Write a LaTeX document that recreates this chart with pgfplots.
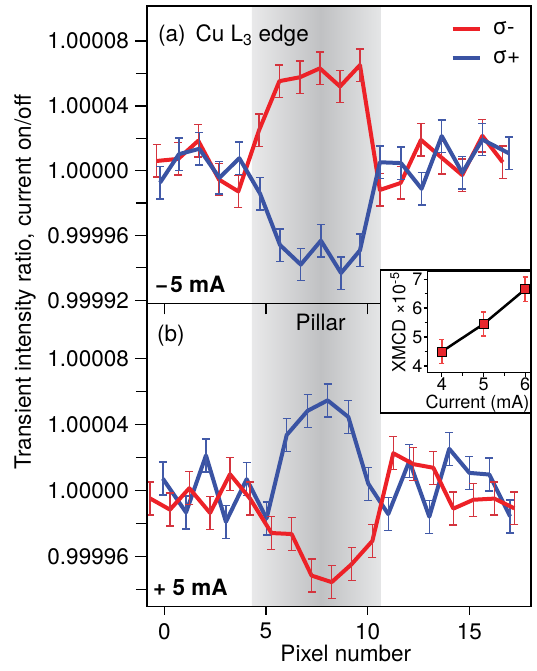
\documentclass[border=0pt]{standalone}
\usepackage{fontspec}
\setmainfont{TeX Gyre Heros}
\usepackage{pgfplots}
\pgfplotsset{compat=1.18}
\definecolor{cRed}{RGB}{237,33,39}
\definecolor{cRedE}{RGB}{212,52,62}
\definecolor{cBlue}{RGB}{58,83,163}
\definecolor{cBlueE}{RGB}{66,90,168}
\definecolor{gL}{RGB}{233,233,234}
\definecolor{gD}{RGB}{192,193,195}
\definecolor{gR}{RGB}{229,230,231}
\definecolor{mRed}{RGB}{232,38,44}
\definecolor{eRed}{RGB}{238,68,68}
\newcommand{\fs}{\fontsize{22.5}{27}\selectfont}
\newcommand{\fsi}{\fontsize{18}{21}\selectfont}
\pgfplotsset{
  mainax/.style={
    scale only axis, width=384pt, xmin=-0.85, xmax=18.03,
    axis line style={line width=1.3pt},
    tick style={line width=1.3pt, black},
    tick align=outside,
    major tick length=12pt, minor tick length=11pt,
    ytick={-8,-4,0,4,8}, minor ytick={-6,-2,2,6},
    ytick pos=left, xtick pos=bottom,
    xtick={0,5,10,15},
    tick label style={font=\fs},
    yticklabel style={inner sep=0pt, xshift=-6pt},
    axis on top,
  },
  redl/.style={cRed, line width=4pt, line join=round, mark=none,
    error bars/.cd, y dir=both, y fixed=1.0,
    error bar style={line width=1.4pt, cRedE},
    error mark=|, error mark options={line width=1.4pt, cRedE, mark size=4pt}},
  bluel/.style={cBlue, line width=4pt, line join=round, mark=none,
    error bars/.cd, y dir=both, y fixed=1.0,
    error bar style={line width=1.4pt, cBlueE},
    error mark=|, error mark options={line width=1.4pt, cBlueE, mark size=4pt}},
}
\begin{document}
\begin{tikzpicture}
\useasboundingbox (0,0) rectangle (537pt,-671pt);
% ---------------- bottom panel (b) ----------------
\begin{axis}[mainax, at={(147pt,-303.3pt)}, anchor=north west,
  height=303.4pt, ymin=-7.04, ymax=11.37,
  yticklabels={0.99992,0.99996,1.00000,1.00004,1.00008},
  ytick={-8,-4,0,4,8},
  xticklabels={0,5,10,15},
  x tick style={/pgfplots/major tick length=8pt},
  xticklabel style={yshift=-1pt},
]
\fill[left color=gL, right color=gD] (axis cs:4.31,-7.04) rectangle (axis cs:7.7,11.37);
\fill[left color=gD, right color=gR] (axis cs:7.7,-7.04) rectangle (axis cs:10.65,11.37);
\addplot[bluel] coordinates {
(-0.07,0.73) (1.07,-1.32) (2.05,2.14) (3.03,-1.89) (4.05,0.70) (5.03,-1.68)
(6.02,3.38) (7.05,4.85) (8.03,5.48) (9.05,4.47) (10.03,0.42) (11.01,-1.42)
(12.05,1.80) (13.03,-1.58) (14.01,2.54) (15.00,1.08) (15.98,0.98) (17.00,-1.56)};
\addplot[redl] coordinates {
(-0.70,-0.47) (0.28,-1.15) (1.23,0.15) (2.25,-1.35) (3.23,1.00) (4.21,-0.47)
(5.27,-2.57) (6.26,-2.63) (7.24,-5.15) (8.23,-5.55) (9.21,-4.46) (10.23,-3.05)
(11.26,2.27) (12.25,1.61) (13.23,1.39) (14.21,-1.09) (15.20,-0.55) (16.23,-0.48)
(17.21,-1.07)};
\end{axis}
% ---------------- top panel (a) ----------------
\begin{axis}[mainax, at={(147pt,-6pt)}, anchor=north west,
  height=297.3pt, ymin=-8.19, ymax=10.17,
  yticklabels={0.99992,0.99996,1.00000,1.00004,1.00008},
  xticklabels={,,,},
  x tick style={/pgfplots/major tick length=11pt},
  legend style={draw=none, fill=none, at={(rel axis cs:0.79,0.955)}, anchor=north west,
    font=\fontsize{22.5}{23}\selectfont, inner sep=0pt, row sep=11pt, column sep=9pt,
    legend cell align=left},
  legend image code/.code={\draw[#1, line width=4pt] (0pt,0pt) -- (27pt,0pt);},
]
\fill[left color=gL, right color=gD] (axis cs:4.31,-8.19) rectangle (axis cs:7.7,10.17);
\fill[left color=gD, right color=gR] (axis cs:7.7,-8.19) rectangle (axis cs:10.65,10.17);
\addplot[redl] coordinates {
(-0.37,0.60) (0.69,0.73) (1.67,1.85) (2.69,-0.55) (3.64,-1.28) (4.66,2.50)
(5.66,5.53) (6.67,5.77) (7.65,6.32) (8.64,5.20) (9.62,6.52) (10.60,-1.19)
(11.62,-0.76) (12.62,1.90) (13.64,0.80) (14.65,-0.27) (15.64,2.15) (16.64,0.52)};
\addlegendentry{σ-}
\addplot[bluel] coordinates {
(-0.21,-0.74) (0.72,1.02) (1.72,1.35) (2.71,-0.44) (3.69,0.77) (4.71,-1.42)
(5.69,-4.59) (6.71,-5.80) (7.70,-4.32) (8.69,-6.32) (9.62,-4.92) (10.60,0.52)
(11.64,0.47) (12.65,-1.12) (13.64,2.14) (14.65,-0.13) (15.64,1.92) (16.95,1.07)};
\addlegendentry{σ+}
\end{axis}
% ---------------- inset ----------------
\draw[line width=1.3pt, fill=white] (380.7pt,-270pt) rectangle (531pt,-413pt);
\begin{axis}[at={(427.7pt,-271pt)}, anchor=north west, scale only axis,
  width=103.3pt, height=101.7pt,
  xmin=3.66, xmax=6.14, ymin=3.77, ymax=7.28,
  xtick={4,5,6}, xticklabels={4,5,6}, minor xtick={4.5,5.5},
  ytick={4,5,6,7}, yticklabels={4,5,6,7}, minor ytick={4.5,5.5,6.5},
  tick align=outside, xtick pos=bottom, ytick pos=left,
  major tick length=4pt, minor tick length=3pt,
  axis line style={line width=1.2pt}, tick style={line width=1.2pt, black},
  tick label style={font=\fsi, inner sep=1pt},
]
\addplot[black, line width=2.5pt, mark=square*, mark size=4.5pt,
  mark options={fill=mRed, draw=black, line width=1pt},
  error bars/.cd, y dir=both, y explicit,
  error bar style={line width=1.5pt, eRed},
  error mark=|, error mark options={line width=1.5pt, eRed, mark size=2.5pt}]
  coordinates {(4,4.50) +- (0,0.42) (5,5.45) +- (0,0.42) (6,6.65) +- (0,0.42)};
\end{axis}
% ---------------- texts ----------------
\node[rotate=90, font=\fs, inner sep=0pt] at (25pt,-282pt) {Transient intensity ratio, current on/off};
\node[anchor=base, font=\fs, inner sep=0pt] at (345.8pt,-661.5pt) {Pixel number};
\node[anchor=base west, font=\fs, inner sep=0pt] at (158pt,-41.5pt) {(a)\hspace{10pt}Cu L\textsubscript{3} edge};
\node[anchor=base west, font=\fs, inner sep=0pt] at (157pt,-341pt) {(b)};
\node[anchor=base, font=\fs, inner sep=0pt] at (320.7pt,-330pt) {Pillar};
\node[anchor=base west, font=\fs\bfseries, inner sep=0pt] at (155pt,-292pt) {−\kern2pt5 mA};
\node[anchor=base west, font=\fs\bfseries, inner sep=0pt] at (153pt,-595pt) {+ 5 mA};
\node[rotate=90, font=\fsi, inner sep=0pt] at (398pt,-322.5pt) {XMCD ×10\textsuperscript{-5}};
\node[anchor=base, font=\fsi, inner sep=0pt] at (477.5pt,-408.3pt) {Current (mA)};
\end{tikzpicture}
\end{document}
